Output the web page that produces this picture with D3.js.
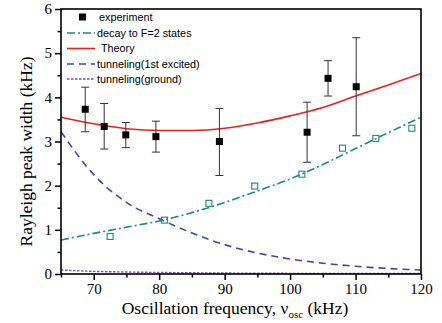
<!DOCTYPE html>
<html><head><meta charset="utf-8">
<script src="https://cdn.jsdelivr.net/npm/d3@7"></script>
<style>body{margin:0;background:#fff}svg{display:block}</style>
</head><body>
<svg id="c" width="442" height="323"></svg>
<script>
// Experiment data
const expX = [68.7, 71.6, 74.9, 79.5, 89.2, 102.6, 105.8, 110.1];
const expY = [3.73, 3.34, 3.15, 3.11, 3.00, 3.21, 4.43, 4.24];
const expHi = [4.23, 3.86, 3.43, 3.46, 3.75, 3.89, 4.83, 5.35];
const expLo = [3.22, 2.83, 2.86, 2.76, 2.23, 2.53, 4.03, 3.13];
// Decay to F=2 markers
const decayPtX = [72.5, 80.8, 87.6, 94.6, 101.8, 108.0, 113.1, 118.6];
const decayPtY = [0.85, 1.22, 1.60, 1.99, 2.26, 2.85, 3.07, 3.30];
// Curves
const curveX = [65, 70, 75, 80, 85, 90, 95, 100, 105, 110, 115, 120];
const theoryY = [3.55, 3.40, 3.29, 3.25, 3.25, 3.30, 3.42, 3.58, 3.77, 4.03, 4.28, 4.54];
const decayY = [0.77, 0.92, 1.06, 1.20, 1.39, 1.62, 1.88, 2.15, 2.48, 2.84, 3.20, 3.55];
const tunnel1Y = [3.22, 2.25, 1.62, 1.25, 0.93, 0.665, 0.475, 0.34, 0.245, 0.175, 0.125, 0.09];
const tunnel0Y = [0.09, 0.06, 0.045, 0.035, 0.028, 0.022, 0.018, 0.015, 0.013, 0.011, 0.010, 0.010];
// Ticks
const xMajor = [70, 80, 90, 100, 110, 120];
const xMinor = [65, 75, 85, 95, 105, 115];
const yMajor = [0, 1, 2, 3, 4, 5, 6];
const yMinor = [0.5, 1.5, 2.5, 3.5, 4.5, 5.5];
const legendLabels = ["experiment", "decay to F=2 states", "Theory", "tunneling(1st excited)", "tunneling(ground)"];

const C = {teal: "#1a8a88", red: "#e8231e", blue: "#4245a8", purple: "#7452c0"};
const L = 61, R = 421, T = 9, B = 274;
const svg = d3.select("#c");
const x = d3.scaleLinear().domain([65, 120]).range([L, R]);
const y = d3.scaleLinear().domain([0, 6]).range([B, T]);

svg.append("defs").append("clipPath").attr("id", "pc")
  .append("rect").attr("x", L).attr("y", T).attr("width", R - L).attr("height", B - T);

const g = svg.append("g").attr("clip-path", "url(#pc)");
const line = d3.line().x(d => x(d[0])).y(d => y(d[1])).curve(d3.curveMonotoneX);
const zip = ys => curveX.map((v, i) => [v, ys[i]]);

g.append("path").attr("d", line(zip(tunnel0Y))).attr("fill", "none")
  .attr("stroke", C.purple).attr("stroke-width", 1.4).attr("stroke-dasharray", "2.5,1.5");
g.append("path").attr("d", line(zip(tunnel1Y))).attr("fill", "none")
  .attr("stroke", C.blue).attr("stroke-width", 1.6).attr("stroke-dasharray", "7,5");
g.append("path").attr("d", line(zip(decayY))).attr("fill", "none")
  .attr("stroke", C.teal).attr("stroke-width", 1.6).attr("stroke-dasharray", "8,3,2,3");
g.append("path").attr("d", line(zip(theoryY))).attr("fill", "none")
  .attr("stroke", C.red).attr("stroke-width", 1.6);

// decay markers
g.selectAll(".dm").data(decayPtX).enter().append("rect")
  .attr("x", (d) => x(d) - 3).attr("y", (d, i) => y(decayPtY[i]) - 3)
  .attr("width", 6).attr("height", 6).attr("fill", "none")
  .attr("stroke", C.teal).attr("stroke-width", 1.1);

// error bars
const eb = g.selectAll(".eb").data(expX).enter().append("g").attr("stroke", "#333").attr("stroke-width", 1);
eb.append("line").attr("x1", d => x(d)).attr("x2", d => x(d))
  .attr("y1", (d, i) => y(expHi[i])).attr("y2", (d, i) => y(expLo[i]));
eb.append("line").attr("x1", d => x(d) - 4).attr("x2", d => x(d) + 4)
  .attr("y1", (d, i) => y(expHi[i])).attr("y2", (d, i) => y(expHi[i]));
eb.append("line").attr("x1", d => x(d) - 4).attr("x2", d => x(d) + 4)
  .attr("y1", (d, i) => y(expLo[i])).attr("y2", (d, i) => y(expLo[i]));
g.selectAll(".em").data(expX).enter().append("rect")
  .attr("x", d => x(d) - 3.5).attr("y", (d, i) => y(expY[i]) - 3.5)
  .attr("width", 7).attr("height", 7).attr("fill", "#000");

// axes
const serif = "'Liberation Serif', 'Times New Roman', serif";
function styleAxis(sel) {
  sel.select(".domain").remove();
  sel.selectAll("line").attr("stroke", "#000").attr("stroke-width", 1.5);
  sel.selectAll("text").attr("font-family", serif).attr("font-size", 15).attr("fill", "#000");
}
svg.append("g").attr("transform", `translate(0,${B})`)
  .call(d3.axisBottom(x).tickValues(xMinor).tickSize(3.5).tickFormat("")).call(styleAxis);
svg.append("g").attr("transform", `translate(0,${B})`)
  .call(d3.axisBottom(x).tickValues(xMajor).tickSize(6).tickPadding(3).tickFormat(d3.format("d"))).call(styleAxis);
svg.append("g").attr("transform", `translate(${L},0)`)
  .call(d3.axisLeft(y).tickValues(yMinor).tickSize(3.5).tickFormat("")).call(styleAxis);
svg.append("g").attr("transform", `translate(${L},0)`)
  .call(d3.axisLeft(y).tickValues(yMajor).tickSize(6).tickPadding(3).tickFormat(d3.format("d"))).call(styleAxis);

svg.append("rect").attr("x", L).attr("y", T).attr("width", R - L).attr("height", B - T)
  .attr("fill", "none").attr("stroke", "#000").attr("stroke-width", 1.6);

// axis titles
const xt = svg.append("text").attr("x", (L + R) / 2 - 6).attr("y", 314).attr("text-anchor", "middle")
  .attr("font-family", serif).attr("font-size", 17.5).attr("fill", "#000");
xt.append("tspan").text("Oscillation frequency, ν");
xt.append("tspan").attr("font-size", 11).attr("dy", 4).text("osc");
xt.append("tspan").attr("dy", -4).text(" (kHz)");
svg.append("text").attr("transform", `translate(32,${(T + B) / 2 + 10}) rotate(-90)`)
  .attr("text-anchor", "middle").attr("font-family", serif).attr("font-size", 17.5).attr("fill", "#000")
  .text("Rayleigh peak width (kHz)");

// legend
const sans = "'Liberation Sans', Arial, sans-serif";
const legY = [17, 33, 48.5, 64, 79];
const lg = svg.append("g");
lg.append("rect").attr("x", 79).attr("y", legY[0] - 3.5).attr("width", 7).attr("height", 7).attr("fill", "#000");
const styles = [null,
  {c: C.teal, da: "8,3,2,3"}, {c: C.red, da: null}, {c: C.blue, da: "7,5"}, {c: C.purple, da: "2.5,1.5"}];
styles.forEach((s, i) => {
  if (!s) return;
  lg.append("line").attr("x1", 67).attr("x2", 95).attr("y1", legY[i]).attr("y2", legY[i])
    .attr("stroke", s.c).attr("stroke-width", 1.6).attr("stroke-dasharray", s.da);
});
legendLabels.forEach((t, i) => {
  lg.append("text").attr("x", i === 2 ? 101 : (i === 0 ? 99 : 97)).attr("y", legY[i] + 3.9)
    .attr("font-family", sans).attr("font-size", 10.8).attr("fill", "#000").text(t);
});
</script>
</body></html>
